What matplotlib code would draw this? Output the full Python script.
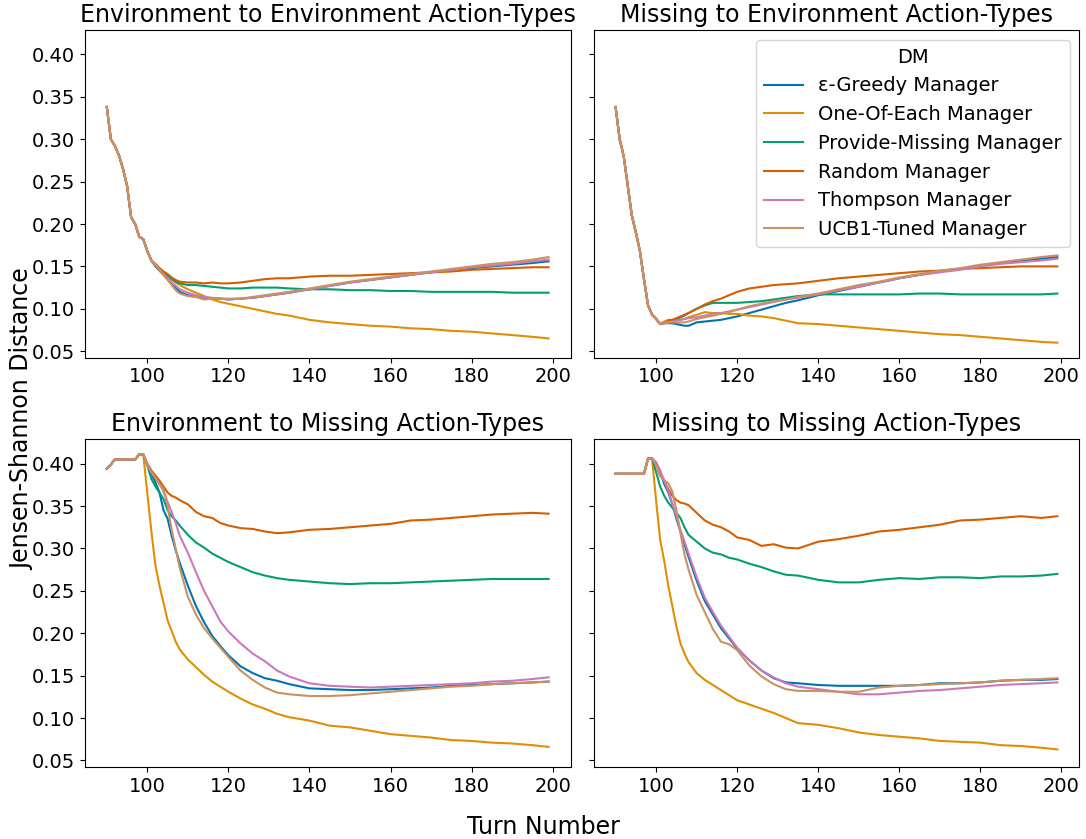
import matplotlib
matplotlib.use("Agg")
import matplotlib.pyplot as plt

turns = [90, 91, 92, 93, 94, 95, 96, 97, 98, 99, 100, 101, 102, 103, 104, 105, 106, 107, 108,
         110, 112, 114, 116, 118, 120, 123, 126, 129, 132, 135, 140, 145, 150, 155, 160,
         165, 170, 175, 180, 185, 190, 195, 199]

managers = ["ε-Greedy Manager", "One-Of-Each Manager", "Provide-Missing Manager",
            "Random Manager", "Thompson Manager", "UCB1-Tuned Manager"]
colors = ["#0173b2", "#de8f05", "#029e73", "#d55e00", "#cc78bc", "#ca9161"]

titles = ["Environment to Environment Action-Types", "Missing to Environment Action-Types",
          "Environment to Missing Action-Types", "Missing to Missing Action-Types"]

# ---- Environment to Environment ----
ee_start = [.338, .300, .292, .281, .265, .245, .208, .200, .185, .182, .168, .157]
ee_greedy = ee_start + [.150, .145, .140, .135, .130, .125, .120, .116, .114, .113, .112, .112, .111, .112, .113, .115, .117, .119, .123, .127, .131, .134, .137, .140, .143, .146, .148, .150, .152, .154, .156]
ee_one = ee_start + [.152, .147, .143, .139, .135, .131, .128, .123, .119, .115, .111, .108, .106, .103, .100, .097, .094, .092, .087, .084, .082, .080, .079, .077, .076, .074, .073, .071, .069, .067, .065]
ee_provide = ee_start + [.152, .147, .143, .139, .135, .132, .130, .128, .128, .127, .126, .125, .124, .124, .125, .125, .125, .124, .123, .123, .122, .122, .121, .121, .120, .120, .120, .120, .119, .119, .119]
ee_random = ee_start + [.153, .148, .144, .141, .137, .134, .132, .131, .131, .130, .131, .130, .130, .131, .133, .135, .136, .136, .138, .139, .139, .140, .141, .142, .143, .144, .146, .147, .148, .149, .149]
ee_thompson = ee_start + [.151, .146, .141, .136, .131, .127, .123, .119, .116, .114, .113, .112, .111, .112, .113, .115, .117, .119, .123, .127, .131, .134, .137, .140, .143, .146, .149, .151, .153, .156, .158]
ee_ucb = ee_start + [.152, .146, .140, .134, .128, .122, .118, .115, .114, .111, .112, .112, .112, .112, .114, .116, .118, .120, .124, .128, .132, .135, .138, .141, .144, .147, .150, .153, .155, .158, .161]

# ---- Missing to Environment ----
me_start = [.338, .300, .280, .245, .210, .190, .168, .135, .104, .093, .088, .082]
me_greedy = me_start + [.083, .083, .083, .082, .081, .080, .080, .084, .085, .086, .087, .089, .091, .095, .099, .103, .107, .110, .116, .121, .126, .131, .136, .140, .144, .147, .151, .154, .157, .159, .161]
me_one = me_start + [.085, .087, .087, .088, .087, .088, .090, .093, .096, .095, .095, .094, .094, .092, .091, .089, .086, .083, .082, .080, .078, .076, .074, .072, .070, .069, .067, .065, .063, .061, .060]
me_provide = me_start + [.083, .084, .085, .087, .090, .092, .095, .100, .104, .107, .107, .107, .107, .108, .109, .111, .113, .115, .117, .117, .117, .117, .117, .118, .118, .117, .117, .117, .117, .117, .118]
me_random = me_start + [.083, .086, .087, .089, .091, .093, .095, .100, .105, .109, .112, .116, .120, .124, .126, .128, .129, .130, .133, .136, .138, .140, .142, .144, .145, .147, .148, .149, .150, .150, .150]
me_thompson = me_start + [.083, .084, .085, .086, .087, .088, .089, .090, .092, .094, .095, .097, .099, .102, .105, .108, .111, .113, .117, .122, .126, .131, .136, .140, .143, .146, .150, .153, .155, .157, .159]
me_ucb = me_start + [.083, .084, .084, .084, .084, .084, .085, .088, .090, .092, .094, .096, .099, .103, .106, .109, .111, .114, .118, .123, .128, .132, .137, .141, .145, .148, .152, .155, .158, .161, .163]

# ---- Environment to Missing ----
em_start = [.394, .399, .405, .405, .405, .405, .405, .405, .411, .411]
em_greedy = em_start + [.398, .388, .378, .366, .345, .335, .315, .298, .283, .256, .232, .213, .197, .185, .174, .161, .153, .147, .144, .140, .135, .134, .133, .133, .134, .135, .136, .138, .139, .140, .141, .142, .143]
em_one = em_start + [.365, .320, .280, .256, .236, .215, .203, .190, .181, .169, .160, .151, .143, .137, .131, .123, .116, .111, .105, .101, .097, .091, .089, .085, .081, .079, .077, .074, .073, .071, .070, .068, .066]
em_provide = em_start + [.398, .382, .373, .366, .358, .345, .338, .333, .327, .316, .307, .301, .294, .289, .284, .278, .272, .268, .265, .263, .261, .259, .258, .259, .259, .260, .261, .262, .263, .264, .264, .264, .264]
em_random = em_start + [.400, .392, .386, .380, .373, .366, .362, .360, .357, .352, .343, .338, .336, .330, .327, .324, .323, .320, .318, .319, .322, .323, .325, .327, .329, .333, .334, .336, .338, .340, .341, .342, .341]
em_thompson = em_start + [.400, .390, .383, .376, .367, .355, .343, .330, .315, .295, .272, .250, .232, .214, .202, .188, .176, .167, .156, .149, .141, .138, .137, .136, .137, .138, .139, .140, .141, .143, .144, .146, .148]
em_ucb = em_start + [.398, .390, .383, .376, .370, .350, .322, .300, .277, .243, .222, .206, .194, .183, .172, .156, .145, .136, .130, .128, .126, .126, .127, .129, .131, .133, .135, .137, .138, .140, .141, .142, .143]

# ---- Missing to Missing ----
mm_start = [.388, .388, .388, .388, .388, .388, .388, .388, .406, .406]
mm_greedy = mm_start + [.400, .390, .376, .366, .352, .335, .320, .305, .290, .262, .238, .222, .206, .194, .182, .168, .156, .147, .142, .141, .139, .138, .138, .138, .138, .139, .141, .141, .142, .144, .145, .145, .146]
mm_one = mm_start + [.356, .310, .285, .256, .232, .208, .188, .176, .166, .153, .145, .139, .133, .127, .121, .116, .111, .106, .100, .094, .092, .088, .083, .080, .078, .076, .073, .072, .071, .068, .067, .065, .063]
mm_provide = mm_start + [.390, .373, .362, .354, .348, .342, .336, .325, .316, .308, .300, .295, .293, .289, .287, .282, .278, .273, .269, .268, .263, .260, .260, .263, .265, .264, .266, .266, .265, .267, .267, .268, .270]
mm_random = mm_start + [.400, .388, .380, .370, .362, .357, .354, .353, .351, .342, .333, .328, .325, .320, .313, .310, .303, .305, .301, .300, .308, .311, .315, .320, .322, .325, .328, .333, .334, .336, .338, .336, .338]
mm_thompson = mm_start + [.402, .392, .380, .368, .353, .338, .322, .308, .294, .266, .242, .225, .209, .196, .183, .168, .156, .148, .141, .137, .134, .131, .128, .128, .130, .132, .133, .135, .137, .139, .140, .141, .142]
mm_ucb = mm_start + [.398, .385, .380, .377, .367, .345, .318, .293, .275, .245, .225, .205, .190, .187, .180, .162, .149, .140, .134, .132, .132, .131, .131, .136, .138, .139, .140, .141, .142, .144, .145, .146, .147]

panels = [
    (ee_greedy, ee_one, ee_provide, ee_random, ee_thompson, ee_ucb),
    (me_greedy, me_one, me_provide, me_random, me_thompson, me_ucb),
    (em_greedy, em_one, em_provide, em_random, em_thompson, em_ucb),
    (mm_greedy, mm_one, mm_provide, mm_random, mm_thompson, mm_ucb),
]

fig, axes = plt.subplots(2, 2, figsize=(10.86, 8.39), dpi=100, sharey=True)
fig.subplots_adjust(left=0.078, right=0.994, top=0.964, bottom=0.086, wspace=0.047, hspace=0.25)

for ax, title, series in zip(axes.flat, titles, panels):
    for name, col, vals in zip(managers, colors, series):
        ax.plot(turns, vals, color=col, lw=1.5, label=name)
    ax.set_title(title, fontsize=17)
    ax.tick_params(labelsize=14)
    ax.set_xticks([100, 120, 140, 160, 180, 200])

axes[0, 0].set_yticks([0.05, 0.10, 0.15, 0.20, 0.25, 0.30, 0.35, 0.40])
axes[0, 1].legend(title="DM", fontsize=14, title_fontsize=14, loc="upper right")

fig.text(0.5, 0.0, "Turn Number", ha="center", va="bottom", fontsize=17)
fig.text(0.009, 0.5, "Jensen-Shannon Distance", ha="left", va="center", rotation=90, fontsize=17)

fig.savefig("out.png", dpi=100)
